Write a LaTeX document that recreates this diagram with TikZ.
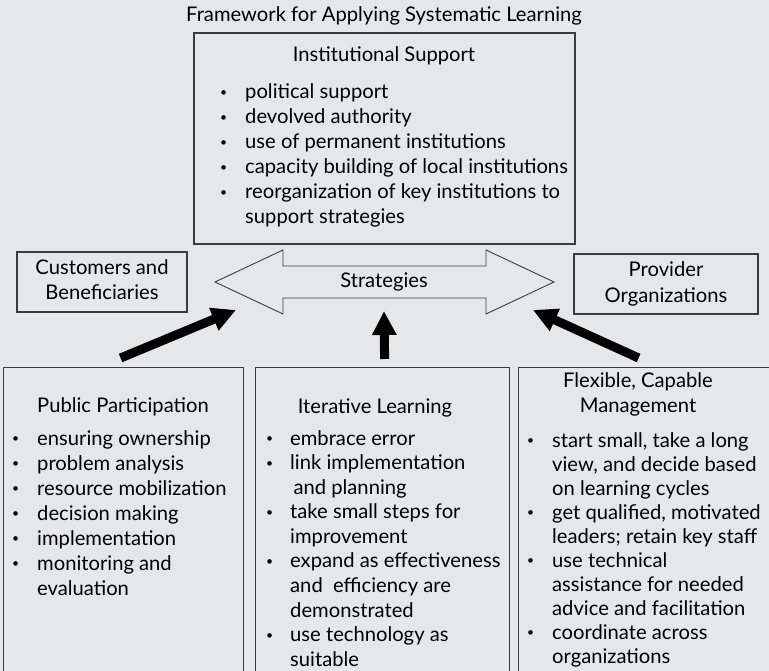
\documentclass[tikz,border=0pt]{standalone}
\usepackage{fontspec}
\setmainfont{Lato}
\usetikzlibrary{arrows.meta,positioning}
\definecolor{bggray}{RGB}{230,231,232}
\definecolor{linegray}{RGB}{60,60,60}
\newcommand{\itm}{\hspace*{1pt}\raisebox{0.25ex}{\scalebox{0.6}{\textbullet}}}
\tikzset{
  box/.style={draw=linegray, line width=1.2pt, inner sep=0pt},
  txt/.style={inner sep=0pt, font=\fontsize{20.2}{25}\selectfont},
  bigarrow/.style={line width=9pt, -{Triangle[length=24pt,width=23pt]}},
}

\begin{document}
\begin{tikzpicture}[x=1pt,y=-1pt]
        \useasboundingbox (0,0) rectangle (769,671);
        \clip (0,0) rectangle (769,671);
        \fill[bggray] (0,0) rectangle (769,671);

        \node[txt, anchor=base] (title) at (384,22) {Framework for Applying Systematic Learning};

        % institutional support
        \node[box, minimum width=381pt, minimum height=211pt] (inst) at (384.5,138.5) {};
        \node[txt, anchor=base] (insthead) at (384,62) {Institutional Support};
        \node[txt, anchor=base west] (instlist) at (219,99) {%
            \begin{tabular}[t]{@{}p{26pt}@{}l@{}}
            \itm & political support\\
            \itm & devolved authority\\
            \itm & use of permanent institutions\\
            \itm & capacity building of local institutions\\
            \itm & reorganization of key institutions to\\
                 & support strategies
            \end{tabular}};

        % side boxes
        \node[box, minimum width=170pt, minimum height=60pt] (cust) at (102,282) {};
        \node[txt, anchor=base] (custtext) at (102,275) {%
            \begin{tabular}[t]{@{}c@{}}Customers and\\ Beneficiaries\end{tabular}};
        \node[box, minimum width=184pt, minimum height=60pt] (prov) at (666,284) {};
        \node[txt, anchor=base] (provtext) at (666,277) {%
            \begin{tabular}[t]{@{}c@{}}Provider\\ Organizations\end{tabular}};

        % strategies
        \draw[linegray, line width=0.9pt, fill=bggray]
            (215,282) -- (283,250) -- (283,266) -- (486,266) -- (486,250)
            -- (554,282) -- (486,314) -- (486,298) -- (283,298) -- (283,314) -- cycle;
        \node[txt] (strat) at (384,282) {Strategies};
        \coordinate (stratL) at (236,310);
        \coordinate (stratB) at (384,311);
        \coordinate (stratR) at (533,310);

        % public participation
        \node[box, minimum width=240pt, minimum height=340pt, anchor=north west] (pp) at (3,367) {};
        \node[txt, anchor=base west] (pphead) at (37,412) {Public Participation};
        \node[txt, anchor=base west] (pplist) at (11,445) {%
            \begin{tabular}[t]{@{}p{26pt}@{}l@{}}
            \itm & ensuring ownership\\
            \itm & problem analysis\\
            \itm & resource mobilization\\
            \itm & decision making\\
            \itm & implementation\\
            \itm & monitoring and\\
                 & evaluation
            \end{tabular}};

        % iterative learning
        \node[box, minimum width=254pt, minimum height=340pt, anchor=north west] (il) at (255,367) {};
        \node[txt, anchor=base] (ilhead) at (375,413) {Iterative Learning};
        \node[txt, anchor=base west, font=\fontsize{20.2}{24.6}\selectfont] (illist) at (265,445) {%
            \begin{tabular}[t]{@{}p{25pt}@{}l@{}}
            \itm & embrace error\\
            \itm & link implementation\\
                 & \,and planning\\
            \itm & take small steps for\\
                 & improvement\\
            \itm & expand as effectiveness\\
                 & and~ efficiency are\\
                 & demonstrated\\
            \itm & use technology as\\
                 & suitable
            \end{tabular}};

        % flexible, capable management
        \node[box, minimum width=262pt, minimum height=340pt, anchor=north west] (fm) at (518,367) {};
        \node[txt, anchor=base] (fmhead) at (638,387) {%
            \begin{tabular}[t]{@{}c@{}}Flexible, Capable\\ Management\end{tabular}};
        \node[txt, anchor=base west, font=\fontsize{20.2}{24}\selectfont] (fmlist) at (526,447) {%
            \begin{tabular}[t]{@{}p{26pt}@{}l@{}}
            \itm & start small, take a long\\
                 & view, and decide based\\
                 & on learning cycles\\
            \itm & get qualified, motivated\\
                 & leaders; retain key staff\\
            \itm & use technical\\
                 & assistance for needed\\
                 & advice and facilitation\\
            \itm & coordinate across\\
                 & organizations
            \end{tabular}};

        % arrows into strategies
        \draw[bigarrow] ([xshift=-3pt,yshift=9pt]pp.north) -- (stratL);
        \draw[bigarrow] ([xshift=2pt,yshift=8pt]il.north) -- (stratB);
        \draw[bigarrow] ([xshift=-11pt,yshift=9pt]fm.north) -- (stratR);
    \end{tikzpicture}
\end{document}
